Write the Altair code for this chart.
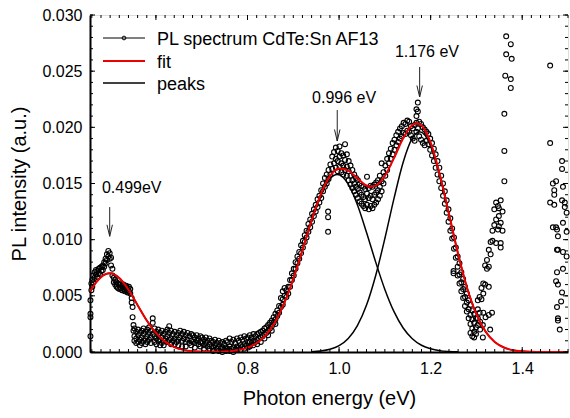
import altair as alt
import pandas as pd

FONT = "Liberation Sans"

# ---------------- axes ----------------
x_domain = [0.456, 1.5]
y_domain = [0.0, 0.030]
x_label_values = [0.6, 0.8, 1.0, 1.2, 1.4]
y_label_values = [0.0, 0.005, 0.010, 0.015, 0.020, 0.025, 0.030]
x_minor_ticks = [round(0.46 + 0.02 * i, 2) for i in range(53)]
y_minor_ticks = [round(0.001 * i, 3) for i in range(31)]

# ---------------- measured spectrum: [energy, intensity, intensity, ...] ----------------
spec_first_peak = [
    [0.457, 0.0014, 0.0031, 0.0034, 0.0046], [0.459, 0.0055, 0.0061], [0.461, 0.0064, 0.0058],
    [0.463, 0.0068, 0.0062], [0.466, 0.0071, 0.0066], [0.469, 0.0073, 0.0069], [0.472, 0.0072, 0.0067],
    [0.475, 0.0074, 0.0070], [0.478, 0.0075, 0.0069], [0.481, 0.0072, 0.0076], [0.484, 0.0077, 0.0073],
    [0.487, 0.0080, 0.0076], [0.490, 0.0083, 0.0079], [0.493, 0.0087, 0.0082], [0.496, 0.0090, 0.0085],
    [0.499, 0.0088, 0.0083], [0.502, 0.0084, 0.0077], [0.505, 0.0074, 0.0068], [0.508, 0.0066, 0.0062],
    [0.511, 0.0064, 0.0060], [0.514, 0.0062, 0.0058], [0.517, 0.0061, 0.0057], [0.520, 0.0060, 0.0056],
    [0.523, 0.0061, 0.0057], [0.526, 0.0059, 0.0055], [0.529, 0.0060, 0.0056], [0.532, 0.0058, 0.0054],
    [0.535, 0.0059, 0.0055], [0.538, 0.0057, 0.0053], [0.541, 0.0058, 0.0054], [0.544, 0.0056, 0.0052],
    [0.547, 0.0048, 0.0044], [0.549, 0.0040, 0.0031], [0.551, 0.0024, 0.0019],
]
spec_low_band = [
    [0.553, 0.0021, 0.0014, 0.0010], [0.557, 0.0018, 0.0012, 0.0008], [0.561, 0.0020, 0.0015, 0.0009],
    [0.565, 0.0017, 0.0011, 0.0006], [0.569, 0.0019, 0.0013, 0.0008], [0.573, 0.0021, 0.0016, 0.0010],
    [0.577, 0.0018, 0.0012, 0.0007], [0.581, 0.0020, 0.0014, 0.0009], [0.585, 0.0022, 0.0017, 0.0011],
    [0.589, 0.0019, 0.0013, 0.0008], [0.593, 0.0030, 0.0026, 0.0016], [0.597, 0.0021, 0.0014, 0.0009],
    [0.601, 0.0018, 0.0012, 0.0007], [0.605, 0.0020, 0.0015, 0.0010], [0.609, 0.0017, 0.0011, 0.0006],
    [0.613, 0.0019, 0.0013, 0.0008], [0.617, 0.0016, 0.0010, 0.0006], [0.621, 0.0018, 0.0012],
    [0.625, 0.0020, 0.0014, 0.0009], [0.629, 0.0023, 0.0017, 0.0011], [0.633, 0.0019, 0.0012, 0.0007],
    [0.637, 0.0016, 0.0010], [0.641, 0.0018, 0.0012, 0.0007], [0.645, 0.0015, 0.0009],
    [0.649, 0.0017, 0.0011, 0.0006], [0.653, 0.0019, 0.0013], [0.657, 0.0016, 0.0010, 0.0005],
    [0.661, 0.0018, 0.0012], [0.665, 0.0015, 0.0009, 0.0005], [0.669, 0.0017, 0.0011],
    [0.673, 0.0014, 0.0008], [0.677, 0.0016, 0.0010, 0.0006], [0.681, 0.0015, 0.0009],
    [0.685, 0.0013, 0.0008, 0.0004], [0.689, 0.0015, 0.0010], [0.693, 0.0012, 0.0007],
    [0.697, 0.0014, 0.0009, 0.0005], [0.701, 0.0013, 0.0008], [0.705, 0.0011, 0.0006, 0.0003],
    [0.709, 0.0013, 0.0008], [0.713, 0.0010, 0.0005], [0.717, 0.0012, 0.0007, 0.0003],
    [0.721, 0.0010, 0.0005], [0.725, 0.0009, 0.0004, 0.0001], [0.729, 0.0011, 0.0006],
    [0.733, 0.0008, 0.0003], [0.737, 0.0010, 0.0005, 0.0001], [0.741, 0.0008, 0.0003],
    [0.745, 0.0009, 0.0004, 0.0000], [0.749, 0.0007, 0.0002], [0.753, 0.0010, 0.0004, 0.0001],
    [0.757, 0.0009, 0.0003], [0.761, 0.0012, 0.0005, 0.0001], [0.765, 0.0009, 0.0003],
    [0.769, 0.0011, 0.0004, 0.0000], [0.773, 0.0008, 0.0002], [0.777, 0.0012, 0.0005, 0.0002],
    [0.781, 0.0010, 0.0004], [0.785, 0.0013, 0.0006, 0.0002], [0.789, 0.0011, 0.0005],
    [0.793, 0.0014, 0.0007, 0.0003], [0.797, 0.0012, 0.0006],
]
spec_rise = [
    [0.801, 0.0013, 0.0008, 0.0004], [0.805, 0.0015, 0.0009, 0.0005], [0.809, 0.0013, 0.0008],
    [0.813, 0.0016, 0.0010, 0.0006], [0.817, 0.0014, 0.0009], [0.821, 0.0016, 0.0011, 0.0007],
    [0.825, 0.0017, 0.0012], [0.829, 0.0018, 0.0013, 0.0009], [0.833, 0.0019, 0.0014],
    [0.837, 0.0021, 0.0016, 0.0012], [0.841, 0.0022, 0.0017], [0.845, 0.0024, 0.0019, 0.0015],
    [0.849, 0.0026, 0.0021], [0.853, 0.0028, 0.0023, 0.0019], [0.857, 0.0031, 0.0026],
    [0.861, 0.0034, 0.0029, 0.0025], [0.865, 0.0037, 0.0032], [0.869, 0.0041, 0.0035],
    [0.873, 0.0048, 0.0040], [0.877, 0.0054, 0.0047, 0.0042], [0.881, 0.0057, 0.0050],
    [0.885, 0.0055, 0.0049], [0.889, 0.0058, 0.0052], [0.893, 0.0064, 0.0058],
    [0.897, 0.0070, 0.0064], [0.901, 0.0074, 0.0068], [0.905, 0.0080, 0.0074],
    [0.909, 0.0085, 0.0079], [0.913, 0.0089, 0.0083], [0.917, 0.0095, 0.0088],
    [0.921, 0.0099, 0.0093], [0.925, 0.0104, 0.0098], [0.929, 0.0108, 0.0102],
    [0.933, 0.0114, 0.0107], [0.937, 0.0118, 0.0111], [0.941, 0.0123, 0.0116],
    [0.945, 0.0127, 0.0121], [0.949, 0.0131, 0.0125], [0.953, 0.0136, 0.0129],
    [0.957, 0.0139, 0.0133], [0.961, 0.0144, 0.0137], [0.965, 0.0150, 0.0143],
    [0.969, 0.0155, 0.0147], [0.973, 0.0158, 0.0150], [0.976, 0.0125, 0.0120, 0.0107],
    [0.977, 0.0162, 0.0154], [0.981, 0.0167, 0.0158], [0.985, 0.0174, 0.0163],
    [0.989, 0.0178, 0.0168],
]
spec_main_peaks = [
    [0.993, 0.0182, 0.0172, 0.0164], [0.997, 0.0179, 0.0170, 0.0161], [1.001, 0.0183, 0.0174, 0.0165],
    [1.005, 0.0177, 0.0168, 0.0160], [1.009, 0.0175, 0.0166, 0.0158], [1.013, 0.0185, 0.0171, 0.0162],
    [1.017, 0.0176, 0.0165, 0.0157], [1.021, 0.0170, 0.0161, 0.0153], [1.025, 0.0166, 0.0157, 0.0149],
    [1.029, 0.0162, 0.0153, 0.0146], [1.033, 0.0158, 0.0150, 0.0143], [1.037, 0.0155, 0.0147, 0.0140],
    [1.041, 0.0153, 0.0145, 0.0137], [1.045, 0.0150, 0.0142, 0.0134], [1.049, 0.0148, 0.0140, 0.0132],
    [1.053, 0.0147, 0.0138, 0.0130], [1.057, 0.0145, 0.0136, 0.0128], [1.061, 0.0156, 0.0141, 0.0131],
    [1.065, 0.0146, 0.0137, 0.0127], [1.069, 0.0148, 0.0139, 0.0130], [1.073, 0.0147, 0.0136, 0.0128],
    [1.077, 0.0149, 0.0140, 0.0131], [1.081, 0.0151, 0.0142, 0.0133], [1.085, 0.0153, 0.0144, 0.0136],
    [1.089, 0.0157, 0.0147, 0.0139], [1.093, 0.0168, 0.0152, 0.0143], [1.097, 0.0160, 0.0150],
    [1.101, 0.0166, 0.0157], [1.105, 0.0172, 0.0162], [1.109, 0.0177, 0.0168], [1.113, 0.0181, 0.0172],
    [1.117, 0.0186, 0.0176], [1.121, 0.0189, 0.0180], [1.125, 0.0193, 0.0184], [1.129, 0.0196, 0.0187],
    [1.133, 0.0199, 0.0190], [1.137, 0.0201, 0.0192], [1.141, 0.0204, 0.0195], [1.145, 0.0203, 0.0194],
    [1.149, 0.0206, 0.0197], [1.153, 0.0205, 0.0196], [1.157, 0.0201, 0.0193], [1.161, 0.0199, 0.0190],
    [1.165, 0.0202, 0.0188], [1.169, 0.0216, 0.0210, 0.0204, 0.0196], [1.172, 0.0222, 0.0214, 0.0199],
    [1.175, 0.0205, 0.0192], [1.179, 0.0203, 0.0189], [1.183, 0.0200, 0.0186], [1.187, 0.0198, 0.0184],
    [1.191, 0.0196, 0.0188], [1.195, 0.0194, 0.0185], [1.199, 0.0190, 0.0180], [1.203, 0.0186, 0.0175],
    [1.207, 0.0181, 0.0170], [1.211, 0.0176, 0.0164], [1.215, 0.0170, 0.0158], [1.219, 0.0164, 0.0152],
    [1.223, 0.0157, 0.0146], [1.227, 0.0150, 0.0139], [1.231, 0.0143, 0.0132], [1.235, 0.0135, 0.0124],
    [1.239, 0.0127, 0.0116], [1.243, 0.0119, 0.0108], [1.247, 0.0110, 0.0101], [1.250, 0.0072, 0.0070],
    [1.251, 0.0102, 0.0092], [1.255, 0.0093, 0.0084], [1.259, 0.0085, 0.0076, 0.0068],
    [1.263, 0.0079, 0.0069, 0.0061], [1.267, 0.0071, 0.0062, 0.0054], [1.271, 0.0065, 0.0056, 0.0048],
    [1.275, 0.0058, 0.0049, 0.0041], [1.279, 0.0052, 0.0044, 0.0036], [1.283, 0.0046, 0.0038, 0.0030],
    [1.287, 0.0042, 0.0033, 0.0025, 0.0017], [1.291, 0.0037, 0.0029, 0.0021, 0.0014],
    [1.295, 0.0034, 0.0026, 0.0018, 0.0013], [1.299, 0.0030, 0.0022, 0.0016],
]
spec_noisy_tail = [
    [1.303, 0.0046, 0.0038, 0.0030, 0.0024], [1.307, 0.0049, 0.0035], [1.308, 0.0027, 0.0020],
    [1.311, 0.0057, 0.0047], [1.314, 0.0013, 0.0024], [1.315, 0.0061, 0.0052, 0.0035],
    [1.319, 0.0077, 0.0060], [1.320, 0.0031], [1.323, 0.0082, 0.0074], [1.327, 0.0091, 0.0076, 0.0058, 0.0033],
    [1.330, 0.0020], [1.331, 0.0098, 0.0087], [1.334, 0.0035], [1.335, 0.0108, 0.0099],
    [1.339, 0.0127, 0.0113], [1.343, 0.0133, 0.0118, 0.0097], [1.347, 0.0130, 0.0109],
    [1.349, 0.0121, 0.0112, 0.0128], [1.353, 0.0097, 0.0093, 0.0135, 0.0115], [1.357, 0.0108, 0.0125],
    [1.361, 0.0212, 0.0179, 0.0152], [1.363, 0.0246], [1.365, 0.0265, 0.0281],
    [1.375, 0.0274, 0.0243, 0.0235], [1.377, 0.0261],
    [1.461, 0.0255, 0.0186, 0.0133], [1.467, 0.0111, 0.0150], [1.470, 0.0144, 0.0131, 0.0140],
    [1.474, 0.0063, 0.0111, 0.0152], [1.476, 0.0109, 0.0071, 0.0040, 0.0091],
    [1.478, 0.0091, 0.0060, 0.0030, 0.0028, 0.0103], [1.482, 0.0020], [1.485, 0.0045],
    [1.487, 0.0170, 0.0163, 0.0053, 0.0135], [1.489, 0.0089, 0.0074, 0.0147, 0.0115],
    [1.493, 0.0129, 0.0133], [1.497, 0.0085, 0.0107, 0.0124],
]

# ---------------- fitted curves ----------------
fit_energy = [0.456, 0.47, 0.48, 0.499, 0.52, 0.54, 0.56, 0.58, 0.60, 0.62, 0.64, 0.66, 0.68, 0.70,
              0.72, 0.74, 0.76, 0.78, 0.80, 0.82, 0.84, 0.86, 0.88, 0.90, 0.92, 0.94, 0.96, 0.98,
              1.00, 1.02, 1.04, 1.06, 1.07, 1.08, 1.10, 1.12, 1.14, 1.16, 1.17, 1.18, 1.20, 1.22,
              1.24, 1.26, 1.28, 1.30, 1.32, 1.34, 1.36, 1.38, 1.40, 1.42, 1.44, 1.47, 1.50]
fit_value = [0.00541, 0.00623, 0.00666, 0.00700, 0.00658, 0.00554, 0.00417, 0.00281, 0.00170,
             0.00092, 0.00044, 0.00019, 0.00007, 0.00003, 0.00002, 0.00003, 0.00007, 0.00018,
             0.00039, 0.00080, 0.00151, 0.00265, 0.00432, 0.00650, 0.00906, 0.01171, 0.01403,
             0.01565, 0.01634, 0.01615, 0.01546, 0.01482, 0.01472, 0.01481, 0.01567, 0.01726,
             0.01903, 0.02021, 0.02037, 0.02016, 0.01864, 0.01581, 0.01230, 0.00874, 0.00566,
             0.00336, 0.00181, 0.00089, 0.00040, 0.00016, 0.00006, 0.00002, 0.0, 0.0, 0.0]

peak1_energy = [0.456, 0.47, 0.48, 0.499, 0.52, 0.54, 0.56, 0.58, 0.60, 0.62, 0.64, 0.66, 0.68, 0.70, 0.72]
peak1_value = [0.00541, 0.00623, 0.00666, 0.00700, 0.00658, 0.00554, 0.00417, 0.00281, 0.00170,
               0.00092, 0.00044, 0.00019, 0.00007, 0.00003, 0.00001]

peak2_energy = [0.74, 0.76, 0.78, 0.80, 0.82, 0.84, 0.86, 0.88, 0.90, 0.92, 0.94, 0.96, 0.98, 0.996,
                1.02, 1.04, 1.06, 1.08, 1.10, 1.12, 1.14, 1.16, 1.18, 1.20, 1.22, 1.24, 1.26]
peak2_value = [0.00003, 0.00007, 0.00018, 0.00039, 0.00080, 0.00151, 0.00265, 0.00432, 0.00650,
               0.00905, 0.01168, 0.01394, 0.01541, 0.01580, 0.01495, 0.01311, 0.01064, 0.00800,
               0.00557, 0.00359, 0.00214, 0.00118, 0.00060, 0.00029, 0.00012, 0.00005, 0.00002]

peak3_energy = [0.94, 0.96, 0.98, 1.00, 1.02, 1.04, 1.06, 1.08, 1.10, 1.12, 1.14, 1.16, 1.176,
                1.20, 1.22, 1.24, 1.26, 1.28, 1.30, 1.32, 1.34, 1.36, 1.38, 1.40, 1.42]
peak3_value = [0.00003, 0.00009, 0.00024, 0.00056, 0.00120, 0.00235, 0.00418, 0.00681, 0.01010,
               0.01367, 0.01689, 0.01903, 0.01960, 0.01835, 0.01569, 0.01225, 0.00872, 0.00566,
               0.00336, 0.00181, 0.00089, 0.00040, 0.00016, 0.00006, 0.00002]

# ---------------- annotations ----------------
peak_energy = [0.499, 0.996, 1.176]
peak_text = ["0.499eV", "0.996 eV", "1.176 eV"]
text_energy = [0.482, 0.941, 1.122]
text_level = [0.01412, 0.02219, 0.02623]
arrow_top = [0.0129, 0.02154, 0.02537]
arrow_tip = [0.0103, 0.01878, 0.0227]

legend_labels = ["PL spectrum CdTe:Sn AF13", "fit", "peaks"]

# ---------------- build tables ----------------
px, py = [], []
for block in (spec_first_peak, spec_low_band, spec_rise, spec_main_peaks, spec_noisy_tail):
    for row in block:
        for v in row[1:]:
            px.append(row[0])
            py.append(v)
points = pd.DataFrame({"energy": px, "intensity": py})

fit_df = pd.DataFrame({"energy": fit_energy, "intensity": fit_value})
peaks_df = pd.concat([
    pd.DataFrame({"energy": peak1_energy, "intensity": peak1_value, "peak": "p1"}),
    pd.DataFrame({"energy": peak2_energy, "intensity": peak2_value, "peak": "p2"}),
    pd.DataFrame({"energy": peak3_energy, "intensity": peak3_value, "peak": "p3"}),
])
ann_df = pd.DataFrame({"energy": peak_energy, "text": peak_text, "tx": text_energy,
                       "ty": text_level, "top": arrow_top, "tip": arrow_tip})

W, H = 478, 337
xs = alt.Scale(domain=x_domain, nice=False, zero=False)
ys = alt.Scale(domain=y_domain, nice=False, zero=False)

x_axis = alt.Axis(values=x_label_values, format=".1f", ticks=False, grid=False,
                  domainColor="black", domainWidth=2, labelFont=FONT, labelFontSize=16,
                  labelColor="black", labelPadding=8, title="Photon energy (eV)",
                  titleFont=FONT, titleFontSize=20, titleFontWeight="normal",
                  titleColor="black", titlePadding=12)
y_axis = alt.Axis(values=y_label_values, format=".3f", ticks=False, grid=False,
                  domainColor="black", domainWidth=2, labelFont=FONT, labelFontSize=16,
                  labelColor="black", labelPadding=8, title="PL intensity (a.u.)",
                  titleFont=FONT, titleFontSize=20, titleFontWeight="normal",
                  titleColor="black", titlePadding=12)


def X(field):
    return alt.X(field, scale=xs, axis=x_axis)


def Y(field):
    return alt.Y(field, scale=ys, axis=y_axis)


scatter = alt.Chart(points).mark_point(
    shape="circle", filled=False, color="black", size=24, strokeWidth=1.1, opacity=1
).encode(x=X("energy:Q"), y=Y("intensity:Q"))

peak_lines = alt.Chart(peaks_df).mark_line(
    color="black", strokeWidth=1.5, interpolate="monotone", clip=True
).encode(x=X("energy:Q"), y=Y("intensity:Q"), detail="peak:N")

fit_line = alt.Chart(fit_df).mark_line(
    color="#ee0000", strokeWidth=2, interpolate="monotone", clip=True
).encode(x=X("energy:Q"), y=Y("intensity:Q"))

shafts = alt.Chart(ann_df).mark_rule(color="#222222", strokeWidth=1).encode(
    x=X("energy:Q"), y=Y("top:Q"), y2="tip:Q")
heads = alt.Chart(ann_df).mark_point(
    shape="M-1,-4.2L0,0L1,-4.2", filled=False, color="#222222", strokeWidth=1, size=30, opacity=1
).encode(x=X("energy:Q"), y=Y("tip:Q"))
labels = alt.Chart(ann_df).mark_text(
    align="left", baseline="alphabetic", font=FONT, fontSize=16, color="black"
).encode(x=X("tx:Q"), y=Y("ty:Q"), text="text:N")


# inward ticks on all four sides
def x_ticks(vals, length):
    d = pd.DataFrame({"v": vals})
    base = alt.Chart(d).mark_rule(color="black", strokeWidth=1)
    return [base.encode(x=X("v:Q"), y=alt.value(H), y2=alt.value(H - length)),
            base.encode(x=X("v:Q"), y=alt.value(0), y2=alt.value(length))]


def y_ticks(vals, length):
    d = pd.DataFrame({"v": vals})
    base = alt.Chart(d).mark_rule(color="black", strokeWidth=1)
    return [base.encode(y=Y("v:Q"), x=alt.value(0), x2=alt.value(length)),
            base.encode(y=Y("v:Q"), x=alt.value(W), x2=alt.value(W - length))]


tick_layers = (x_ticks(x_minor_ticks, 3) + x_ticks(x_label_values, 5)
               + y_ticks(y_minor_ticks, 3) + y_ticks(y_label_values, 5))

# manual legend
legend_layers = []
row_y = [23, 46, 68]
line_styles = [("black", 1), ("#ee0000", 2), ("black", 1.5)]
for i, lab in enumerate(legend_labels):
    d = pd.DataFrame({"label": [lab]})
    col, sw = line_styles[i]
    legend_layers.append(alt.Chart(d).mark_rule(color=col, strokeWidth=sw).encode(
        x=alt.value(13), x2=alt.value(55), y=alt.value(row_y[i])))
    legend_layers.append(alt.Chart(d).mark_text(
        align="left", baseline="alphabetic", font=FONT, fontSize=18, color="black"
    ).encode(x=alt.value(67), y=alt.value(row_y[i] + 6.5), text="label:N"))
legend_layers.append(alt.Chart(pd.DataFrame({"label": [legend_labels[0]]})).mark_point(
    shape="circle", filled=False, color="black", size=14, strokeWidth=1, opacity=1
).encode(x=alt.value(34), y=alt.value(row_y[0])))

chart = alt.layer(
    scatter, peak_lines, fit_line, shafts, heads, labels, *tick_layers, *legend_layers
).properties(
    width=W, height=H,
    padding={"left": 90, "top": 15, "right": 2, "bottom": 66},
    autosize=alt.AutoSizeParams(type="none"),
).configure_view(
    stroke="black", strokeWidth=1
).configure(background="white")

chart.save("out.html", embed_options={"renderer": "svg", "actions": False})
